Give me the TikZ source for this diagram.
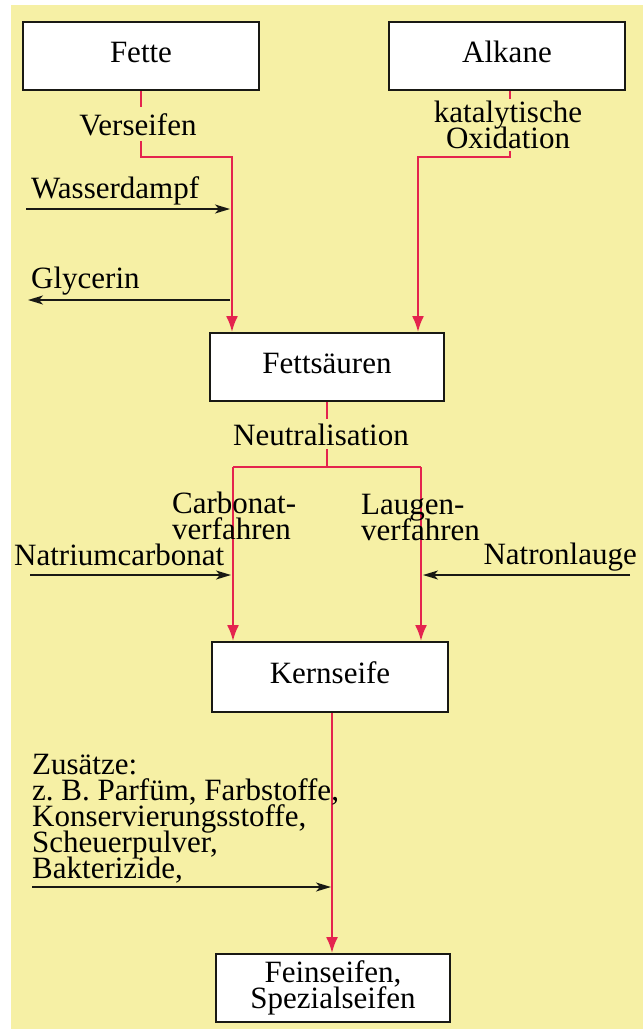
\documentclass[tikz,border=0pt]{standalone}
\usepackage{fontspec}
\setmainfont{Liberation Serif}
\usetikzlibrary{arrows.meta,calc}
\definecolor{bgyellow}{RGB}{246,240,165}
\definecolor{flowred}{RGB}{228,36,78}
\definecolor{inkblack}{RGB}{25,25,20}
\setlength{\lineskiplimit}{-60pt}
\begin{document}
\setlength{\lineskiplimit}{-60pt}%
\begin{tikzpicture}[x=1pt,y=-1pt,
  txt/.style={font=\fontsize{31}{26}\selectfont},
  box/.style={txt,draw=inkblack,line width=2pt,fill=white,minimum width=236pt,minimum height=68pt,inner sep=0pt,align=center},
  onebox/.style={box,text height=21pt,text depth=8pt},
  lbl/.style={txt,inner sep=0pt},
  flowline/.style={draw=flowred,line width=2pt},
  flow/.style={flowline,-{Latex[length=16pt,width=12pt]}},
  feed/.style={draw=inkblack,line width=1.5pt,-{Stealth[length=15pt,width=9pt,inset=4pt]}},
]
\fill[white] (0,0) rectangle (643,1029);
\fill[bgyellow] (11,5) rectangle (643,1029);
\useasboundingbox (0,0) rectangle (643,1029);

% boxes
\node[onebox] (fette) at (141,56) {Fette};
\node[onebox] (alkane) at (507,56) {Alkane};
\node[onebox,minimum width=234pt] (fs) at (327,367) {Fettsäuren};
\node[onebox,minimum height=70pt] (kern) at (330,677) {Kernseife};
\node[box,minimum width=234pt] (fein) at (333,988) {Feinseifen,\\Spezialseifen};

% red flow lines
\coordinate (j1) at (232,157);
\coordinate (j2) at (418,157);
\draw[flow] (fette.south) |- (j1) -- (j1 |- fs.north);
\draw[flow] ([xshift=3pt]alkane.south) |- (j2) -- (j2 |- fs.north);

\coordinate (nl) at (233,467);
\coordinate (nr) at (421,467);
\draw[flowline] (fs.south) -- (fs.south |- nl);
\draw[flowline] (nl) -- (nr);
\draw[flow] (nl) -- (nl |- kern.north);
\draw[flow] (nr) -- (nr |- kern.north);

\draw[flow] ([xshift=2pt]kern.south) -- ([xshift=2pt]kern.south |- fein.north);

% labels on the flow lines
\node[lbl,fill=bgyellow,inner xsep=2pt,inner ysep=6pt,anchor=base] (vers) at (138,135) {Verseifen};
\node[lbl,fill=bgyellow,inner sep=2pt,align=center] (kat) at (508,125) {katalytische\\Oxidation};
\node[lbl,fill=bgyellow,inner xsep=2pt,inner ysep=4pt,anchor=base] (neut) at (321,445) {Neutralisation};
\node[lbl,align=left,anchor=north west] (carb) at (172,492) {Carbonat-\\verfahren};
\node[lbl,align=left,anchor=north west] (laug) at (361,494) {Laugen-\\verfahren};

% side feeds
\node[lbl,anchor=base west] (wasser) at (31,198) {Wasserdampf};
\node[lbl,anchor=base west] (glyc) at (31,288) {Glycerin};
\node[lbl,anchor=base west] (natc) at (14,565) {Natriumcarbonat};
\node[lbl,anchor=base east] (natl) at (637,564) {Natronlauge};
\node[lbl,align=left,anchor=north west] (zus) at (32,754) {Zusätze:\\z.~B. Parfüm, Farbstoffe,\\Konservierungsstoffe,\\Scheuerpulver,\\Bakterizide,};

\coordinate (wdS) at (26,209);  \coordinate (wdE) at (230,209);
\coordinate (glS) at (230,300); \coordinate (glE) at (28,300);
\coordinate (ncS) at (30,575);  \coordinate (ncE) at (231,575);
\coordinate (nlS) at (630,575); \coordinate (nlE) at (423,575);
\coordinate (zsS) at (32,887);  \coordinate (zsE) at (331,887);
\draw[feed] (wdS) -- (wdE);
\draw[feed] (glS) -- (glE);
\draw[feed] (ncS) -- (ncE);
\draw[feed] (nlS) -- (nlE);
\draw[feed] (zsS) -- (zsE);
\end{tikzpicture}
\end{document}
